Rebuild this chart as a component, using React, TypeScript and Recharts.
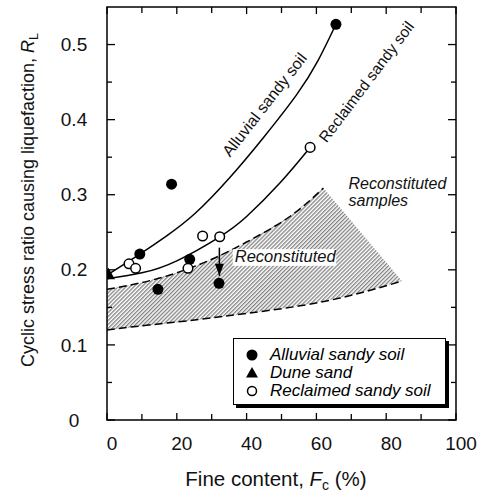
import React from "react";
import {
  ComposedChart,
  XAxis,
  YAxis,
  Line,
  Area,
  Scatter,
  ReferenceDot,
  ReferenceArea,
  Legend,
} from "recharts";

const alluvialPts = [
  { x: 9.4, y: 0.221 },
  { x: 14.6, y: 0.174 },
  { x: 18.5, y: 0.314 },
  { x: 23.7, y: 0.214 },
  { x: 32.1, y: 0.182 },
  { x: 65.6, y: 0.527 },
];
const dunePts = [{ x: 0.4, y: 0.194 }];
const reclaimedPts = [
  { x: 6.3, y: 0.208 },
  { x: 8.2, y: 0.202 },
  { x: 23.2, y: 0.202 },
  { x: 27.4, y: 0.245 },
  { x: 32.3, y: 0.244 },
  { x: 58.2, y: 0.363 },
];

// fitted trend curves
const alluvialCurve = [
  { x: 0, y: 0.193 },
  { x: 9.4, y: 0.221 },
  { x: 17, y: 0.245 },
  { x: 25.2, y: 0.275 },
  { x: 35.2, y: 0.323 },
  { x: 44.8, y: 0.376 },
  { x: 54.3, y: 0.433 },
  { x: 60.5, y: 0.479 },
  { x: 65.6, y: 0.527 },
];
const reclaimedCurve = [
  { x: 0, y: 0.188 },
  { x: 10, y: 0.196 },
  { x: 20, y: 0.212 },
  { x: 32.3, y: 0.244 },
  { x: 40, y: 0.271 },
  { x: 49.6, y: 0.316 },
  { x: 58.2, y: 0.363 },
];

// reconstituted samples band
const upperDash = [
  { x: 0, y: 0.174 },
  { x: 10, y: 0.183 },
  { x: 20, y: 0.196 },
  { x: 30, y: 0.214 },
  { x: 40, y: 0.237 },
  { x: 52.4, y: 0.271 },
  { x: 62, y: 0.309 },
];
const lowerDash = [
  { x: 0, y: 0.12 },
  { x: 13, y: 0.127 },
  { x: 26.6, y: 0.134 },
  { x: 40, y: 0.142 },
  { x: 55.3, y: 0.152 },
  { x: 70, y: 0.166 },
  { x: 84.5, y: 0.185 },
];
const bandX = [0, 10, 20, 30, 40, 52.4, 62, 70, 84.5];
const bandLo = [0.12, 0.125, 0.13, 0.136, 0.142, 0.15, 0.158, 0.166, 0.185];
const bandHi = [0.174, 0.183, 0.196, 0.214, 0.237, 0.271, 0.309, 0.265, 0.185];

const arrowPts = [
  { x: 32.2, y: 0.2295 },
  { x: 32.2, y: 0.192 },
];

const xTicks = [0, 10, 20, 30, 40, 50, 60, 70, 80, 90, 100];
const yTicks = [0, 0.05, 0.1, 0.15, 0.2, 0.25, 0.3, 0.35, 0.4, 0.45, 0.5];

const bandData = bandX.map((x, i) => ({ x, band: [bandLo[i], bandHi[i]] }));

const FONT = '"Liberation Sans", Arial, sans-serif';
const LEFT = 107;
const TOP = 7;
const RIGHT = 456;
const BOTTOM = 420;

const XTick = (props: any) => {
  const { x, payload } = props;
  const v = payload.value;
  const major = v % 20 === 0;
  const len = major ? 7 : 6;
  return (
    <g>
      <line x1={x} x2={x} y1={BOTTOM} y2={BOTTOM - len} stroke="#000" strokeWidth={1.3} />
      <line x1={x} x2={x} y1={TOP} y2={TOP + len} stroke="#000" strokeWidth={1.3} />
      {major && (
        <text x={x + 5} y={450} textAnchor="middle" fontSize={19} fontFamily={FONT} fill="#111">
          {v}
        </text>
      )}
    </g>
  );
};

const YTick = (props: any) => {
  const { y, payload } = props;
  const v = payload.value;
  const major = Math.round(v * 100) % 10 === 0;
  const len = major ? 8 : 5;
  return (
    <g>
      <line x1={LEFT} x2={LEFT + len} y1={y} y2={y} stroke="#000" strokeWidth={1.3} />
      <line x1={RIGHT} x2={RIGHT - len} y1={y} y2={y} stroke="#000" strokeWidth={1.3} />
      {major && (
        <text x={74} y={y} dy="0.35em" textAnchor="middle" fontSize={19} fontFamily={FONT} fill="#111">
          {v === 0 ? "0" : v.toFixed(1)}
        </text>
      )}
    </g>
  );
};

const filledDot = (p: any) => <circle cx={p.cx} cy={p.cy} r={5.5} fill="#000" />;
const openDot = (p: any) => (
  <circle cx={p.cx} cy={p.cy} r={4.8} fill="#fff" stroke="#000" strokeWidth={1.5} />
);
const triDot = (p: any) => (
  <path d={`M${p.cx},${p.cy - 6.5} L${p.cx + 6.5},${p.cy + 5} L${p.cx - 6.5},${p.cy + 5} Z`} fill="#000" />
);

const arrowHead = (p: any) =>
  p.index === 1 ? (
    <path
      key="head"
      d={`M${p.cx},${p.cy} L${p.cx - 4.5},${p.cy - 12} L${p.cx + 4.5},${p.cy - 12} Z`}
      fill="#000"
    />
  ) : (
    <g key="tail" />
  );

const legendItems = [
  { name: "Alluvial sandy soil", mark: "filled" },
  { name: "Dune sand", mark: "tri" },
  { name: "Reclaimed sandy soil", mark: "open" },
];

const LegendBox = () => (
  <div
    style={{
      width: 213,
      height: 67,
      border: "1.3px solid #000",
      background: "#fff",
      boxShadow: "3px 3px 0 #000",
      fontFamily: FONT,
      fontStyle: "italic",
      fontSize: 17,
      lineHeight: "18px",
      paddingTop: 7,
      boxSizing: "border-box",
      whiteSpace: "nowrap",
    }}
  >
    {legendItems.map((it) => (
      <div key={it.name} style={{ display: "flex", alignItems: "center", height: 18 }}>
        <svg width={36} height={18} style={{ flexShrink: 0 }}>
          {it.mark === "filled" && <circle cx={18} cy={9} r={5.5} fill="#000" />}
          {it.mark === "open" && <circle cx={18} cy={9} r={4.5} fill="#fff" stroke="#000" strokeWidth={1.5} />}
          {it.mark === "tri" && <path d="M18,3 L24,13.5 L12,13.5 Z" fill="#000" />}
        </svg>
        <span>{it.name}</span>
      </div>
    ))}
  </div>
);

const textShape = (content: React.ReactNode) => (p: any) => <g transform={`translate(${p.cx},${p.cy})`}>{content}</g>;

export default function App() {
  return (
    <div style={{ position: "absolute", left: 0, top: 0, background: "#fff" }}>
      <ComposedChart
        width={478}
        height={492}
        margin={{ top: TOP, right: 478 - RIGHT, bottom: 32, left: 47 }}
      >
        <defs>
          <pattern id="hatch" patternUnits="userSpaceOnUse" width={2.8} height={2.8} patternTransform="rotate(45)">
            <line x1={0.7} y1={0} x2={0.7} y2={2.8} stroke="#6a6a6a" strokeWidth={1.1} />
          </pattern>
        </defs>
        <XAxis
          dataKey="x"
          type="number"
          domain={[0, 100]}
          ticks={xTicks}
          interval={0}
          tick={<XTick />}
          tickLine={false}
          tickSize={0}
          tickMargin={0}
          axisLine={false}
          height={40}
          allowDataOverflow
        />
        <YAxis
          dataKey="y"
          type="number"
          domain={[0, 0.55]}
          ticks={yTicks}
          interval={0}
          tick={<YTick />}
          tickLine={false}
          tickSize={0}
          tickMargin={0}
          axisLine={false}
          width={60}
          allowDataOverflow
        />
        <Area
          data={bandData}
          dataKey="band"
          type="linear"
          fill="url(#hatch)"
          fillOpacity={1}
          stroke="none"
          isAnimationActive={false}
          legendType="none"
        />
        <Line data={upperDash} dataKey="y" type="natural" stroke="#000" strokeWidth={1.5} strokeDasharray="8 4" dot={false} isAnimationActive={false} legendType="none" />
        <Line data={lowerDash} dataKey="y" type="natural" stroke="#000" strokeWidth={1.5} strokeDasharray="8 4" dot={false} isAnimationActive={false} legendType="none" />
        <Line data={alluvialCurve} dataKey="y" type="natural" stroke="#000" strokeWidth={1.5} dot={false} isAnimationActive={false} legendType="none" />
        <Line data={reclaimedCurve} dataKey="y" type="natural" stroke="#000" strokeWidth={1.5} dot={false} isAnimationActive={false} legendType="none" />
        <ReferenceArea x1={0} x2={100} y1={0} y2={0.55} fill="none" stroke="#000" strokeWidth={1.5} />
        <ReferenceDot
          x={36.6}
          y={0.2106}
          r={0}
          shape={textShape(
            <>
              <rect x={-2} y={-12.7} width={103.5} height={16.7} fill="#fff" />
              <text fontSize={16.5} fontStyle="italic" fontFamily={FONT} fill="#111">
                Reconstituted
              </text>
            </>
          )}
        />
        <Line data={arrowPts} dataKey="y" type="linear" stroke="#000" strokeWidth={1.5} dot={arrowHead} isAnimationActive={false} legendType="none" />
        <Scatter data={alluvialPts} dataKey="y" name="Alluvial sandy soil" shape={filledDot} isAnimationActive={false} />
        <Scatter data={dunePts} dataKey="y" name="Dune sand" shape={triDot} isAnimationActive={false} />
        <Scatter data={reclaimedPts} dataKey="y" name="Reclaimed sandy soil" shape={openDot} isAnimationActive={false} />
        <ReferenceDot
          x={46.6}
          y={0.4146}
          r={0}
          shape={textShape(
            <text transform="rotate(-52)" textAnchor="middle" dy={-1} fontSize={16} fontFamily={FONT} fill="#111">
              Alluvial sandy soil
            </text>
          )}
        />
        <ReferenceDot
          x={74.4}
          y={0.45}
          r={0}
          shape={textShape(
            <text transform="rotate(-53)" textAnchor="middle" dy={5} fontSize={15.5} fontFamily={FONT} fill="#111">
              Reclaimed sandy soil
            </text>
          )}
        />
        <ReferenceDot
          x={69.2}
          y={0.307}
          r={0}
          shape={textShape(
            <>
              <text fontSize={16} fontStyle="italic" fontFamily={FONT} fill="#111">
                Reconstituted
              </text>
              <text y={16.5} fontSize={16} fontStyle="italic" fontFamily={FONT} fill="#111">
                samples
              </text>
            </>
          )}
        />
        <Legend
          layout="horizontal"
          verticalAlign="middle"
          align="center"
          content={() => <LegendBox />}
          wrapperStyle={{ left: 233, top: 338, width: 216, height: 70 }}
        />
        <text
          transform="translate(34,200) rotate(-90)"
          textAnchor="middle"
          fontSize={18}
          fontFamily={FONT}
          fill="#111"
        >
          Cyclic stress ratio causing liquefaction,{" "}
          <tspan fontStyle="italic">R</tspan>
          <tspan fontSize={12.5} dy={4}>L</tspan>
        </text>
        <text x={276} y={486} textAnchor="middle" fontSize={20.5} fontFamily={FONT} fill="#111">
          Fine content, <tspan fontStyle="italic">F</tspan>
          <tspan fontSize={14} dy={4}>c</tspan>
          <tspan dy={-4}> (%)</tspan>
        </text>
      </ComposedChart>
    </div>
  );
}
